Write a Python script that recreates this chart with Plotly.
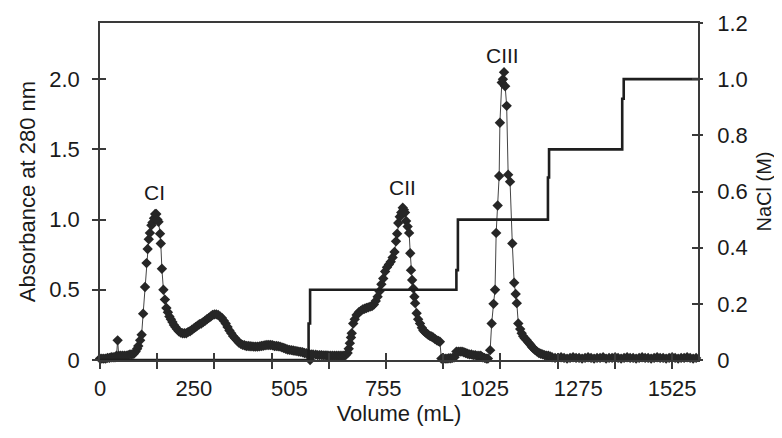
import plotly.graph_objects as go

# ---------------- data ----------------
volume_ml = [
    0, 5, 10, 15, 20, 25, 30, 35, 40, 44,
    47, 50, 55, 60, 65, 70, 75, 80, 85, 90,
    95, 99, 102, 107, 111, 115, 120, 124, 127, 130,
    133, 137, 140, 144, 147, 150, 153, 156, 160, 162,
    165, 169, 173, 177, 181, 185, 189, 193, 197, 201,
    205, 210, 215, 220, 225, 230, 235, 240, 245, 250,
    255, 260, 265, 270, 275, 280, 285, 290, 295, 300,
    305, 310, 315, 320, 325, 330, 335, 340, 345, 350,
    355, 360, 365, 370, 375, 380, 385, 390, 395, 400,
    405, 410, 415, 420, 425, 430, 435, 440, 445, 450,
    455, 460, 465, 470, 475, 480, 485, 490, 495, 500,
    505, 510, 515, 520, 525, 530, 535, 540, 545, 550,
    556, 560, 563, 568, 575, 580, 585, 590, 595, 600,
    605, 610, 615, 620, 625, 630, 635, 640, 645, 650,
    655, 660, 663, 666, 669, 671, 675, 679, 684, 690,
    695, 700, 705, 710, 715, 720, 725, 730, 735, 740,
    745, 750, 755, 760, 765, 770, 775, 780, 785, 789,
    792, 795, 799, 803, 807, 810, 813, 816, 820, 824,
    827, 829, 832, 835, 838, 840, 844, 848, 853, 858,
    862, 866, 870, 875, 880, 884, 888, 893, 898, 902,
    906, 910, 915, 920, 925, 930, 935, 940, 945, 950,
    955, 960, 965, 970, 975, 980, 985, 990, 995, 1000,
    1005, 1010, 1015, 1020, 1025, 1030, 1034, 1040, 1044, 1049,
    1053, 1056, 1060, 1064, 1066, 1071, 1074, 1077, 1080, 1084,
    1088, 1093, 1099, 1104, 1108, 1111, 1115, 1120, 1124, 1128,
    1132, 1137, 1142, 1147, 1151, 1155, 1160, 1165, 1170, 1175,
    1180, 1185, 1190, 1195, 1200, 1205, 1213, 1221, 1229, 1237,
    1245, 1253, 1261, 1269, 1277, 1285, 1293, 1301, 1309, 1317,
    1325, 1333, 1341, 1349, 1357, 1365, 1373, 1381, 1389, 1397,
    1405, 1413, 1421, 1429, 1437, 1445, 1453, 1461, 1469, 1477,
    1485, 1493, 1501, 1509, 1517, 1525, 1533, 1541, 1549, 1557,
    1565, 1573, 1581, 1589,
]
absorbance_280 = [
    0.01, 0.01, 0.01, 0.01, 0.015, 0.015, 0.02, 0.02, 0.02, 0.03,
    0.14, 0.03, 0.03, 0.03, 0.03, 0.03, 0.035, 0.04, 0.04, 0.045,
    0.06, 0.08, 0.10, 0.14, 0.18, 0.33, 0.52, 0.69, 0.79, 0.86,
    0.905, 0.96, 0.98, 1.01, 1.04, 1.04, 1.00, 0.985, 0.90, 0.83,
    0.65, 0.50, 0.43, 0.37, 0.34, 0.31, 0.29, 0.27, 0.25, 0.235,
    0.22, 0.205, 0.195, 0.19, 0.19, 0.19, 0.20, 0.205, 0.215, 0.225,
    0.235, 0.245, 0.255, 0.26, 0.27, 0.28, 0.29, 0.30, 0.31, 0.32,
    0.325, 0.325, 0.32, 0.31, 0.30, 0.28, 0.26, 0.235, 0.21, 0.19,
    0.17, 0.155, 0.14, 0.125, 0.115, 0.108, 0.105, 0.10, 0.10, 0.098,
    0.097, 0.095, 0.095, 0.095, 0.097, 0.10, 0.102, 0.105, 0.107, 0.107,
    0.107, 0.105, 0.10, 0.10, 0.098, 0.095, 0.09, 0.085, 0.08, 0.075,
    0.072, 0.07, 0.068, 0.065, 0.063, 0.06, 0.058, 0.055, 0.05, 0.048,
    0.045, 0.0, 0.04, 0.04, 0.038, 0.035, 0.035, 0.035, 0.033, 0.033,
    0.032, 0.03, 0.03, 0.03, 0.03, 0.03, 0.03, 0.03, 0.03, 0.03,
    0.035, 0.05, 0.08, 0.12, 0.16, 0.19, 0.26, 0.29, 0.32, 0.34,
    0.35, 0.36, 0.365, 0.37, 0.375, 0.38, 0.385, 0.395, 0.42, 0.45,
    0.49, 0.54, 0.58, 0.63, 0.66, 0.68, 0.70, 0.73, 0.77, 0.845,
    0.90, 0.976, 1.02, 1.05, 1.085, 1.07, 1.05, 0.99, 0.95, 0.905,
    0.76, 0.64, 0.57, 0.51, 0.45, 0.405, 0.333, 0.29, 0.26, 0.23,
    0.21, 0.20, 0.19, 0.18, 0.17, 0.167, 0.16, 0.15, 0.14, 0.135,
    0.13, 0.01, 0.01, 0.01, 0.01, 0.012, 0.012, 0.015, 0.02, 0.06,
    0.06, 0.06, 0.06, 0.055, 0.05, 0.045, 0.04, 0.04, 0.035, 0.035,
    0.03, 0.03, 0.03, 0.02, 0.015, 0.01, 0.01, 0.07, 0.26, 0.40,
    0.50, 0.905, 1.10, 1.31, 1.69, 1.976, 2.0, 2.05, 1.95, 1.81,
    1.32, 1.27, 0.83, 0.55, 0.47, 0.405, 0.26, 0.22, 0.19, 0.17,
    0.155, 0.143, 0.125, 0.11, 0.095, 0.083, 0.07, 0.06, 0.05, 0.045,
    0.04, 0.035, 0.03, 0.03, 0.025, 0.02, 0.015, 0.015, 0.02, 0.015,
    0.01, 0.015, 0.02, 0.015, 0.015, 0.01, 0.015, 0.02, 0.015, 0.01,
    0.015, 0.015, 0.02, 0.01, 0.015, 0.015, 0.02, 0.015, 0.01, 0.015,
    0.02, 0.015, 0.015, 0.01, 0.015, 0.02, 0.015, 0.015, 0.01, 0.015,
    0.02, 0.015, 0.015, 0.01, 0.015, 0.02, 0.015, 0.01, 0.015, 0.015,
    0.02, 0.015, 0.01, 0.015,
]
assert len(volume_ml) == len(absorbance_280)

nacl_volume_ml = [0, 556, 560, 950, 954, 1194, 1197, 1392, 1396, 1594]
nacl_conc_m = [0, 0.13, 0.25, 0.32, 0.50, 0.65, 0.75, 0.93, 1.00, 1.00]

peak_names = ["CI", "CII", "CIII"]
peak_label_x = [144, 806, 1073]
peak_label_y = [1.19, 1.23, 2.17]

x_label_vals = [0, 250, 505, 755, 1025, 1275, 1525]
x_label_text = ["0", "250", "505", "755", "1025", "1275", "1525"]
x_tick_marks = [0, 152.5, 305, 457.5, 610, 762.5, 915, 1067.5, 1220, 1372.5, 1525]
y_left_vals = [0, 0.5, 1.0, 1.5, 2.0]
y_left_text = ["0", "0.5", "1.0", "1.5", "2.0"]
y_right_vals = [0, 0.2, 0.4, 0.6, 0.8, 1.0, 1.2]
y_right_text = ["0", "0.2", "0.4", "0.6", "0.8", "1.0", "1.2"]

# ---------------- figure ----------------
INK = "#262626"
AX = "#3a3a3a"
FONT = "Liberation Sans, Arial, Helvetica, sans-serif"
X_RANGE = [0, 1594]

fig = go.Figure()

fig.add_trace(go.Scatter(
    x=volume_ml, y=absorbance_280, mode="lines+markers",
    line=dict(color="#444444", width=1),
    marker=dict(symbol="diamond", size=8, color=INK),
    showlegend=False, cliponaxis=False, xaxis="x", yaxis="y",
))
fig.add_trace(go.Scatter(
    x=nacl_volume_ml, y=nacl_conc_m, mode="lines", line_shape="hv",
    line=dict(color="#1e1e1e", width=2.6),
    showlegend=False, xaxis="x", yaxis="y2",
))
# helper traces so the inner-tick axes are drawn
for xa, ya in [("x2", "y"), ("x", "y3"), ("x", "y4")]:
    fig.add_trace(go.Scatter(x=[None], y=[None], xaxis=xa, yaxis=ya,
                             showlegend=False, hoverinfo="skip"))

for name, xv, yv in zip(peak_names, peak_label_x, peak_label_y):
    fig.add_annotation(x=xv, y=yv, xref="x", yref="y", text=name,
                       showarrow=False, font=dict(size=21, color="#1a1a1a", family=FONT))

tick_common = dict(tickcolor=AX, tickwidth=1.5)

# the page body adds an 8 px offset, so the figure is 8 px smaller
fig.update_layout(
    width=774, height=430,
    margin=dict(l=92, r=84, t=15, b=78),
    paper_bgcolor="white", plot_bgcolor="white",
    font=dict(family=FONT, size=22, color="#1a1a1a"),
    xaxis=dict(
        range=X_RANGE, showgrid=False, zeroline=False, automargin=False,
        showline=True, linecolor=AX, linewidth=1.5, mirror=True,
        tickmode="array", tickvals=x_label_vals, ticktext=x_label_text,
        ticks="", ticklabelstandoff=8,
        minor=dict(tickmode="array", tickvals=x_tick_marks, ticks="outside",
                   ticklen=7, showgrid=False, **tick_common),
        title=dict(text="Volume (mL)", standoff=2, font=dict(size=22)),
    ),
    xaxis2=dict(
        range=X_RANGE, overlaying="x", anchor="y", side="bottom", automargin=False,
        showgrid=False, zeroline=False, showline=False, showticklabels=False,
        tickmode="array", tickvals=x_tick_marks, ticks="inside", ticklen=7,
        **tick_common,
    ),
    yaxis=dict(
        range=[0, 2.4], showgrid=False, zeroline=False, automargin=False,
        showline=True, linecolor=AX, linewidth=1.5,
        tickmode="array", tickvals=y_left_vals, ticktext=y_left_text,
        ticks="outside", ticklen=6, ticklabelstandoff=8, **tick_common,
        title=dict(text="Absorbance at 280 nm", standoff=8, font=dict(size=22)),
    ),
    yaxis3=dict(
        range=[0, 2.4], overlaying="y", anchor="x", side="left", automargin=False,
        showgrid=False, zeroline=False, showline=False, showticklabels=False,
        tickmode="array", tickvals=y_left_vals, ticks="inside", ticklen=6,
        **tick_common,
    ),
    yaxis2=dict(
        range=[0, 1.2], overlaying="y", anchor="x", side="right", automargin=False,
        showgrid=False, zeroline=False,
        showline=True, linecolor=AX, linewidth=1.5,
        tickmode="array", tickvals=y_right_vals, ticktext=y_right_text,
        ticks="outside", ticklen=3, ticklabelstandoff=10, **tick_common,
        title=dict(text="NaCl (M)", standoff=10, font=dict(size=20)),
    ),
    yaxis4=dict(
        range=[0, 1.2], overlaying="y", anchor="x", side="right", automargin=False,
        showgrid=False, zeroline=False, showline=False, showticklabels=False,
        tickmode="array", tickvals=y_right_vals, ticks="inside", ticklen=6,
        **tick_common,
    ),
)

fig.write_html("out.html")
